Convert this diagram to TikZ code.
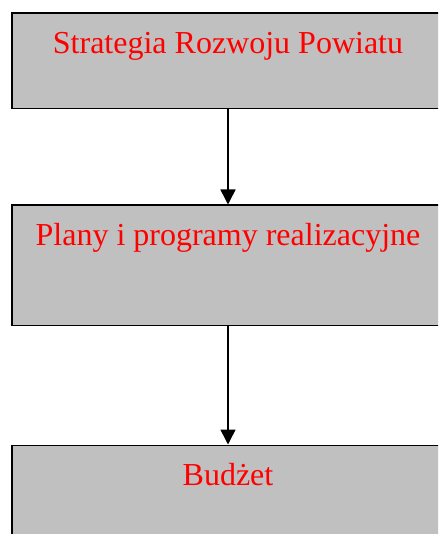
\documentclass[tikz,border=0pt]{standalone}
\usepackage{fontspec}
\setmainfont{Liberation Serif}
\usetikzlibrary{arrows.meta, positioning}
\definecolor{boxgray}{RGB}{192, 192, 192}

\begin{document}
\begin{tikzpicture}[
    blok/.style={draw=black, line width=1.5pt, fill=boxgray, text=red,
      minimum width=432pt, inner sep=0pt, anchor=north,
      font=\fontsize{32}{38}\selectfont},
    strzalka/.style={-{Triangle[length=15pt, width=15pt]}, line width=1.5pt}
  ]
  \useasboundingbox (0pt, 0pt) rectangle (438pt, -534pt);
  \clip (0pt, 0pt) rectangle (438pt, -534pt);

  % Boxes
  \node[blok, text height=40.5pt, text depth=55pt] (strategia) at (228pt, -12.5pt) {Strategia Rozwoju Powiatu};
  \node[blok, text height=40pt, text depth=80pt] (plany) at (228pt, -204.5pt) {Plany i programy realizacyjne};
  \node[blok, text height=40.5pt, text depth=80pt] (budzet) at (228pt, -444.5pt) {Budżet};

  % Arrows
  \draw[strzalka] (strategia) -- (plany);
  \draw[strzalka] (plany) -- (budzet);
\end{tikzpicture}
\end{document}
